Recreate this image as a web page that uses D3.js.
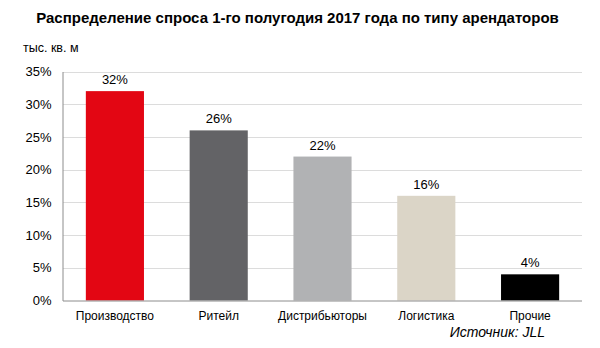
<!DOCTYPE html>
<html>
<head>
<meta charset="utf-8">
<script src="https://cdn.jsdelivr.net/npm/d3@7/dist/d3.min.js"></script>
<style>
  html, body { margin: 0; padding: 0; background: #fff; }
  svg { display: block; font-family: "Liberation Sans", Arial, sans-serif; }
</style>
</head>
<body>
<svg id="chart" width="600" height="348"></svg>
<script>
// Demand by tenant type, H1 2017 (share of total, %)
const categories = ["Производство", "Ритейл", "Дистрибьюторы", "Логистика", "Прочие"];
const shares = [32, 26, 22, 16, 4];
const barColors = ["#e30613", "#636366", "#b1b2b4", "#dbd5c7", "#000000"];
const yTicks = [0, 5, 10, 15, 20, 25, 30, 35];

const svg = d3.select("#chart");
const margin = { left: 63, right: 18, top: 71.5, bottom: 47.5 };
const W = 600, H = 348;

const x = d3.scaleBand()
  .domain(categories)
  .range([margin.left, W - margin.right])
  .paddingInner(0.44)
  .paddingOuter(0.22);

const y = d3.scaleLinear()
  .domain([0, 35])
  .range([H - margin.bottom, margin.top]);

// Title and unit caption
svg.append("text")
  .attr("x", 297.5).attr("y", 22.5)
  .attr("text-anchor", "middle")
  .attr("font-size", 15).attr("font-weight", "bold")
  .attr("fill", "#000")
  .text("Распределение спроса 1-го полугодия 2017 года по типу арендаторов");

svg.append("text")
  .attr("x", 23).attr("y", 51.5)
  .attr("font-size", 12.5)
  .attr("fill", "#000")
  .text("тыс. кв. м");

// Horizontal gridlines
svg.append("g")
  .selectAll("line")
  .data(yTicks.filter(d => d > 0))
  .join("line")
  .attr("x1", margin.left).attr("x2", W - margin.right)
  .attr("y1", d => Math.round(y(d)) + 0.5).attr("y2", d => Math.round(y(d)) + 0.5)
  .attr("stroke", "#dcdcdc").attr("stroke-width", 1);

// Y axis
const yAxis = d3.axisLeft(y)
  .tickValues(yTicks)
  .tickFormat(d => d + "%")
  .tickSize(0)
  .tickPadding(11);

const gy = svg.append("g")
  .attr("transform", `translate(${margin.left - 0.5},0)`)
  .call(yAxis);
gy.select(".domain").attr("stroke", "#8c8c8c");
gy.selectAll("text")
  .attr("font-size", 13).attr("fill", "#000")
  .attr("font-family", "Liberation Sans, Arial, sans-serif");

// Bars
svg.append("g")
  .selectAll("rect")
  .data(categories)
  .join("rect")
  .attr("x", d => x(d))
  .attr("width", x.bandwidth())
  .attr("y", (d, i) => y(shares[i]))
  .attr("height", (d, i) => y(0) - y(shares[i]))
  .attr("fill", (d, i) => barColors[i]);

// X axis
const xAxis = d3.axisBottom(x).tickSize(0).tickPadding(11);
const gx = svg.append("g")
  .attr("transform", `translate(0,${y(0)})`)
  .call(xAxis);
gx.select(".domain").attr("stroke", "#8c8c8c").attr("d", `M${margin.left},0.5H${W - margin.right}`);
gx.selectAll("text")
  .attr("font-size", 12).attr("fill", "#000")
  .attr("font-family", "Liberation Sans, Arial, sans-serif");

// Value labels
svg.append("g")
  .selectAll("text")
  .data(categories)
  .join("text")
  .attr("x", d => x(d) + x.bandwidth() / 2)
  .attr("y", (d, i) => y(shares[i]) - 7)
  .attr("text-anchor", "middle")
  .attr("font-size", 13).attr("fill", "#000")
  .text((d, i) => shares[i] + "%");

// Source note
svg.append("text")
  .attr("x", 545).attr("y", 337)
  .attr("text-anchor", "end")
  .attr("font-size", 14).attr("font-style", "italic")
  .attr("fill", "#000")
  .text("Источник: JLL");
</script>
</body>
</html>
